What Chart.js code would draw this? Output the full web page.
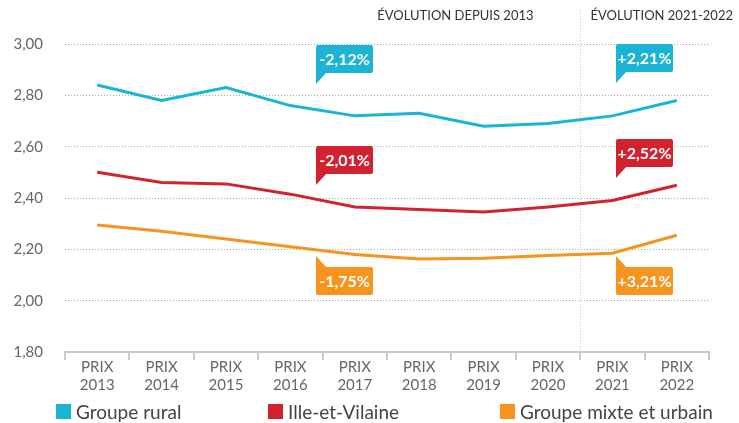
<!DOCTYPE html>
<html lang="fr">
<head>
<meta charset="utf-8">
<script src="https://cdn.jsdelivr.net/npm/chart.js@4"></script>
<style>
    html, body { margin: 0; padding: 0; background: #fff; }
    .wrap { position: relative; width: 739px; height: 423px; }
    .legend { position: absolute; left: 0; top: 400px; width: 739px; height: 22px; font-family: 'Lato', sans-serif; font-size: 19px; color: #444; }
    .legend-item { position: absolute; top: 0; display: flex; align-items: center; white-space: nowrap; }
    .legend-item span.box { width: 15px; height: 15px; margin-right: 5px; display: inline-block; }
</style>
</head>
<body>
<div class="wrap">
    <canvas id="chart" width="739" height="423"></canvas>
    <div class="legend" id="legend"></div>
</div>
<script>
// Prix moyen, par groupe
const years = ['2013', '2014', '2015', '2016', '2017', '2018', '2019', '2020', '2021', '2022'];
const seriesNames = ['Groupe rural', 'Ille-et-Vilaine', 'Groupe mixte et urbain'];
const groupeRural = [2.84, 2.78, 2.83, 2.76, 2.72, 2.73, 2.68, 2.69, 2.72, 2.78];
const illeEtVilaine = [2.50, 2.46, 2.455, 2.415, 2.365, 2.355, 2.345, 2.365, 2.39, 2.45];
const groupeMixte = [2.295, 2.27, 2.24, 2.21, 2.18, 2.162, 2.165, 2.176, 2.185, 2.255];
const yTicks = [1.8, 2.0, 2.2, 2.4, 2.6, 2.8, 3.0];

const evolDepuis2013 = ['-2,12%', '-2,01%', '-1,75%'];
const evol2021_2022 = ['+2,21%', '+2,52%', '+3,21%'];

const COLORS = ['#1ab4d5', '#d3222f', '#f7941e'];

// callouts: which series, where along the x scale, value of the tail tip
const callouts = [
    { series: 0, at: 3.4, tip: 2.845, dir: 'down', text: evolDepuis2013[0] },
    { series: 1, at: 3.4, tip: 2.452, dir: 'down', text: evolDepuis2013[1] },
    { series: 2, at: 3.4, tip: 2.175, dir: 'up', text: evolDepuis2013[2] },
    { series: 0, at: 8.06, tip: 2.847, dir: 'down', text: evol2021_2022[0] },
    { series: 1, at: 8.06, tip: 2.478, dir: 'down', text: evol2021_2022[1] },
    { series: 2, at: 8.06, tip: 2.175, dir: 'up', text: evol2021_2022[2] }
];

const fmt = v => (Math.round(v * 100) / 100).toFixed(2).replace('.', ',');

// section headers + divider between 2020 and 2021
const sectionPlugin = {
    id: 'sections',
    beforeDatasetsDraw(chart) {
        const { ctx, chartArea, scales: { x } } = chart;
        const divX = Math.round((x.getPixelForValue(7) + x.getPixelForValue(8)) / 2) + 0.5;
        ctx.save();
        ctx.strokeStyle = '#c4c4c4';
        ctx.lineWidth = 1;
        ctx.setLineDash([1, 2]);
        ctx.beginPath();
        ctx.moveTo(divX, 10);
        ctx.lineTo(divX, chartArea.bottom);
        ctx.stroke();
        ctx.setLineDash([]);

        ctx.fillStyle = '#333';
        ctx.font = "13px 'Lato', sans-serif";
        ctx.textBaseline = 'middle';
        ctx.textAlign = 'right';
        ctx.fillText('ÉVOLUTION DEPUIS 2013', divX - 47, 16);
        ctx.textAlign = 'left';
        ctx.fillText('ÉVOLUTION 2021-2022', divX + 10, 16);
        ctx.restore();
    }
};

const calloutPlugin = {
    id: 'callouts',
    afterDatasetsDraw(chart) {
        const { ctx, scales: { x, y } } = chart;
        const w = 57, h = 28, tail = 11;
        ctx.save();
        ctx.font = "bold 16px 'Lato', sans-serif";
        ctx.textAlign = 'center';
        ctx.textBaseline = 'middle';
        callouts.forEach(c => {
            const left = Math.round(x.getPixelForValue(c.at));
            const tipY = Math.round(y.getPixelForValue(c.tip));
            const top = c.dir === 'down' ? tipY - tail - h : tipY + tail;
            ctx.fillStyle = COLORS[c.series];
            ctx.beginPath();
            ctx.roundRect(left, top, w, h, 2);
            ctx.fill();
            ctx.beginPath();
            if (c.dir === 'down') {
                ctx.moveTo(left, top + h - 1);
                ctx.lineTo(left, tipY);
                ctx.lineTo(left + tail, top + h - 1);
            } else {
                ctx.moveTo(left, top + 1);
                ctx.lineTo(left, tipY);
                ctx.lineTo(left + tail, top + 1);
            }
            ctx.closePath();
            ctx.fill();
            ctx.fillStyle = '#fff';
            ctx.fillText(c.text, left + w / 2, top + h / 2 + 1);
        });
        ctx.restore();
    }
};

const datasets = [groupeRural, illeEtVilaine, groupeMixte].map((data, i) => ({
    label: seriesNames[i],
    data: data,
    borderColor: COLORS[i],
    backgroundColor: COLORS[i],
    borderWidth: 3,
    pointRadius: 0,
    tension: 0,
    fill: false
}));

new Chart(document.getElementById('chart'), {
    type: 'line',
    data: {
        labels: years.map(yr => ['PRIX', yr]),
        datasets: datasets
    },
    options: {
        responsive: false,
        animation: false,
        events: [],
        layout: { padding: { top: 44, right: 30, bottom: 31, left: 13 } },
        plugins: {
            legend: { display: false },
            tooltip: { enabled: false }
        },
        scales: {
            x: {
                offset: true,
                grid: {
                    offset: true,
                    drawOnChartArea: false,
                    drawTicks: true,
                    tickLength: 8,
                    color: '#c8c8c8',
                    lineWidth: 2
                },
                border: { display: true, color: '#c8c8c8', width: 2 },
                ticks: {
                    color: '#666',
                    padding: -2,
                    maxRotation: 0,
                    font: { family: "'Lato', sans-serif", size: 15 }
                }
            },
            y: {
                min: 1.8,
                max: 3.0,
                afterBuildTicks(scale) {
                    scale.ticks = yTicks.map(v => ({ value: v }));
                },
                afterFit(scale) {
                    scale.width = 52;
                },
                grid: {
                    drawTicks: false,
                    color: ctx => ctx.tick && ctx.tick.value <= 1.8 ? 'rgba(0,0,0,0)' : '#a8a8a8',
                    lineWidth: 1
                },
                border: { display: false, dash: [1, 2] },
                ticks: {
                    color: '#666',
                    padding: 22,
                    font: { family: "'Lato', sans-serif", size: 15 },
                    callback: v => fmt(v)
                }
            }
        }
    },
    plugins: [sectionPlugin, calloutPlugin]
});

// legend under the axis
const legendEl = document.getElementById('legend');
const legendLeft = [56, 268, 500];
seriesNames.forEach((name, i) => {
    const item = document.createElement('div');
    item.className = 'legend-item';
    item.style.left = legendLeft[i] + 'px';
    item.innerHTML = `<span class="box" style="background:${COLORS[i]}"></span>${name}`;
    legendEl.appendChild(item);
});
</script>
</body>
</html>
